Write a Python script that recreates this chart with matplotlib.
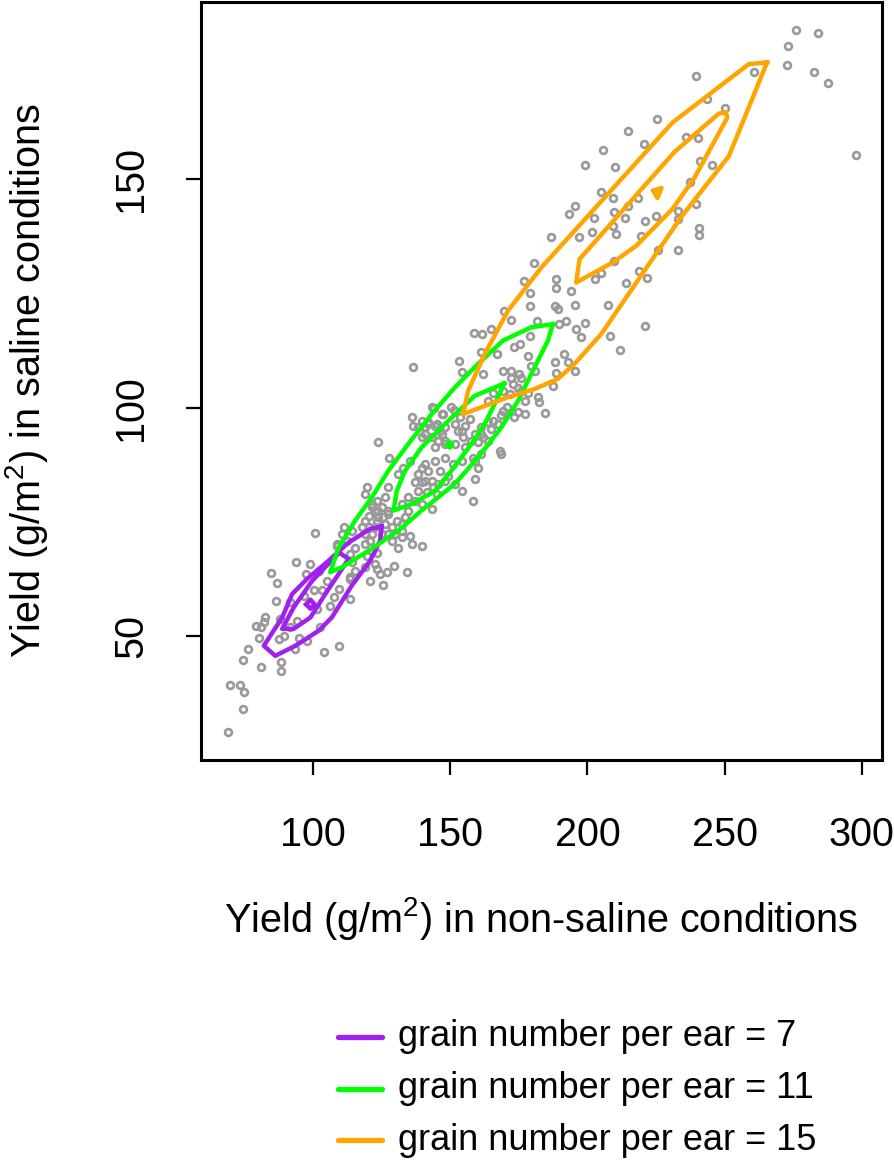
import matplotlib
matplotlib.use("Agg")
import matplotlib.pyplot as plt
from matplotlib.lines import Line2D

plt.rcParams["font.family"] = ["Liberation Sans", "DejaVu Sans"]
plt.rcParams["mathtext.fontset"] = "custom"
plt.rcParams["mathtext.rm"] = "Liberation Sans"
plt.rcParams["mathtext.it"] = "Liberation Sans"

# yield (g/m2): (non-saline, saline) per line
points = [
    (276.2, 182.6), (283.9, 182.0), (273.3, 179.2), (272.8, 175.0), (282.7, 173.4), (287.8, 171.0),
    (298.0, 155.4), (260.7, 173.4), (239.7, 172.6), (243.7, 167.5), (250.1, 165.5), (225.3, 163.2),
    (214.8, 160.5), (220.8, 157.8), (236.1, 159.3), (240.3, 159.0), (205.8, 156.5), (199.0, 153.2),
    (210.2, 152.6), (240.9, 154.0), (245.5, 153.2), (237.3, 149.5), (205.1, 147.3), (209.3, 145.8),
    (218.5, 145.8), (195.3, 144.2), (193.2, 142.4), (202.5, 141.6), (214.9, 144.2), (209.6, 142.9),
    (213.8, 141.6), (201.7, 138.5), (197.1, 137.3), (209.4, 139.8), (210.5, 138.1), (220.9, 140.8),
    (225.0, 141.9), (219.7, 137.6), (232.9, 143.0), (233.2, 141.3), (239.5, 144.6), (240.7, 139.4),
    (240.8, 137.7), (225.8, 134.5), (233.2, 134.5), (186.8, 137.4), (209.6, 132.2), (202.9, 128.1),
    (205.0, 129.5), (214.1, 127.4), (218.9, 130.0), (221.6, 128.5), (188.6, 128.2), (188.6, 126.3),
    (194.1, 125.6), (188.3, 122.3), (195.5, 122.5), (207.5, 122.5), (221.0, 117.9), (208.3, 115.8),
    (211.8, 112.6), (192.2, 118.9), (199.1, 118.5), (195.9, 117.2), (197.7, 115.4), (188.3, 110.1),
    (191.6, 111.7), (195.3, 108.1), (188.6, 107.5), (180.5, 131.7), (176.9, 127.8), (178.9, 125.2),
    (178.9, 122.3), (169.6, 121.2), (172.2, 119.2), (181.6, 119.0), (164.7, 117.2), (158.7, 116.3),
    (161.6, 116.1), (179.0, 115.8), (161.3, 112.3), (167.2, 111.7), (153.1, 110.3), (136.5, 109.0),
    (154.1, 107.9), (173.3, 113.2), (175.5, 114.0), (178.3, 111.4), (169.2, 108.1), (172.2, 108.1),
    (175.2, 107.4), (162.0, 107.4), (189.2, 121.6), (189.8, 118.3), (175.9, 106.5), (172.2, 106.5),
    (179.5, 109.2), (180.7, 108.1), (192.9, 110.1), (187.4, 104.8), (174.7, 104.4), (175.9, 103.7),
    (172.9, 105.2), (169.2, 103.7), (171.6, 103.0), (178.3, 103.3), (177.1, 101.5), (182.0, 102.4),
    (182.5, 101.2), (184.6, 98.8), (177.1, 98.6), (174.7, 99.0), (173.4, 97.9), (170.8, 100.1),
    (169.2, 99.3), (165.6, 103.3), (163.8, 101.5), (144.2, 99.9), (146.8, 98.6), (151.4, 99.6),
    (142.0, 96.8), (145.0, 96.4), (148.0, 95.7), (151.6, 96.4), (155.3, 96.1), (154.1, 95.0),
    (163.8, 96.8), (161.3, 95.7), (165.0, 95.3), (167.4, 96.4), (168.6, 98.5), (158.9, 94.2),
    (157.7, 92.8), (160.1, 92.4), (162.0, 93.5), (148.0, 92.8), (151.6, 92.1), (155.3, 91.3),
    (168.0, 90.6), (168.6, 89.9), (161.3, 89.9), (158.3, 89.1), (154.1, 88.4), (151.1, 87.7),
    (148.0, 89.1), (144.4, 88.4), (140.7, 87.7), (140.7, 95.7), (140.7, 94.2), (123.8, 92.6),
    (127.8, 89.0), (135.9, 97.9), (136.5, 96.1), (139.5, 97.2), (143.2, 100.1), (147.4, 98.6),
    (150.4, 100.1), (144.4, 96.1), (146.2, 95.0), (153.5, 97.9), (157.1, 97.5), (152.9, 95.0),
    (154.7, 93.5), (165.6, 97.2), (161.3, 94.2), (163.8, 92.8), (158.9, 88.4), (160.1, 86.9),
    (158.9, 84.4), (158.3, 79.6), (154.1, 81.8), (151.6, 83.3), (149.2, 85.1), (146.2, 86.2),
    (142.0, 86.2), (139.5, 86.9), (138.3, 85.5), (140.7, 84.0), (137.1, 83.7), (135.3, 88.4),
    (132.9, 86.9), (131.1, 85.5), (143.8, 82.6), (145.0, 81.1), (141.4, 81.5), (143.2, 77.8),
    (139.5, 78.9), (137.1, 79.6), (134.7, 80.4), (132.3, 78.9), (134.7, 77.5), (133.5, 76.0),
    (132.3, 74.6), (130.5, 75.3), (127.4, 82.6), (126.2, 80.4), (123.2, 79.6), (121.4, 78.2),
    (123.8, 77.5), (120.2, 76.4), (123.2, 75.3), (125.6, 76.0), (127.4, 76.7), (119.5, 82.6),
    (118.9, 81.1), (135.3, 72.0), (132.3, 71.6), (139.5, 69.8), (135.9, 70.2), (127.4, 72.4),
    (128.6, 70.9), (131.1, 69.4), (111.1, 74.0), (114.1, 73.1), (117.7, 73.8), (118.9, 72.4),
    (110.5, 72.4), (108.7, 70.2), (112.3, 70.9), (115.3, 69.4), (118.9, 70.2), (121.4, 68.7),
    (119.5, 67.6), (129.3, 65.3), (126.8, 64.0), (134.1, 64.0), (122.6, 65.8), (124.4, 63.6),
    (114.1, 66.2), (115.3, 64.3), (113.5, 62.9), (100.5, 72.5), (93.7, 66.2), (98.7, 65.8),
    (102.0, 64.3), (97.5, 63.6), (84.8, 63.8), (86.8, 61.6), (108.7, 69.8), (113.5, 68.0),
    (105.0, 62.1), (103.2, 60.0), (109.3, 60.3), (113.5, 62.5), (120.8, 70.9), (123.2, 68.3),
    (118.9, 65.1), (123.2, 64.7), (120.8, 62.1), (125.6, 61.1), (86.4, 57.6), (91.7, 57.4),
    (96.6, 58.9), (100.2, 60.0), (101.4, 56.0), (106.2, 56.7), (107.5, 58.5), (113.5, 58.1),
    (79.0, 52.3), (80.8, 51.9), (82.6, 54.1), (82.0, 53.0), (88.0, 53.8), (80.2, 49.6),
    (87.5, 49.4), (89.3, 50.1), (94.7, 49.7), (97.7, 49.0), (93.5, 47.2), (102.6, 51.9),
    (76.2, 47.1), (74.5, 44.8), (80.8, 43.3), (88.4, 44.3), (88.4, 42.3), (103.8, 46.6),
    (109.3, 47.9), (69.7, 39.4), (73.5, 39.3), (74.7, 37.7), (74.5, 34.0), (69.0, 29.1),
    (91.7, 51.9), (94.1, 53.4), (121.4, 78.9), (122.6, 77.5), (125.0, 78.2), (127.4, 77.5),
    (123.8, 76.0), (126.2, 74.6), (128.6, 73.8), (129.8, 72.4), (132.3, 73.1), (125.0, 72.4),
    (122.6, 73.8), (121.4, 72.4), (120.2, 73.8), (118.9, 75.3), (138.3, 95.7), (143.2, 93.5),
    (145.6, 92.8), (142.0, 96.4), (139.5, 93.5), (146.8, 94.2), (144.4, 91.3), (148.0, 92.1),
    (139.5, 83.8), (143.2, 84.0), (145.6, 83.3), (148.0, 84.0), (138.3, 81.8),
]

# density contour lines (non-saline, saline) for each grain number group
contours = {
    "7": [
        [(125.0, 74.0), (120.8, 73.5), (112.9, 70.5), (105.6, 66.5), (97.7, 62.5), (92.3, 59.2),
         (88.7, 54.1), (82.0, 47.9), (86.2, 45.7), (93.5, 47.9), (102.0, 51.2), (106.8, 54.1),
         (114.1, 61.1), (120.8, 66.5), (124.4, 70.9), (125.0, 74.0)],
        [(109.5, 68.3), (112.9, 66.9), (104.4, 59.2), (99.0, 54.1), (92.9, 51.6), (88.7, 51.6),
         (92.9, 56.3), (99.6, 62.1), (109.5, 68.3)],
        [(97.5, 57.0), (99.0, 58.0), (100.5, 57.0), (99.0, 56.0), (97.5, 57.0)],
    ],
    "11": [
        [(187.4, 118.3), (179.5, 117.6), (169.2, 114.7), (160.1, 109.6), (151.6, 104.4), (143.2, 98.6),
         (134.7, 92.1), (127.4, 86.2), (121.4, 80.4), (115.3, 75.3), (109.3, 69.4), (106.2, 64.0),
         (110.5, 65.1), (120.2, 68.7), (131.1, 73.1), (139.5, 77.5), (151.6, 83.3), (160.1, 89.1),
         (168.6, 95.7), (174.7, 101.5), (180.7, 108.8), (185.6, 114.7), (187.4, 118.3)],
        [(169.6, 105.3), (158.9, 102.6), (148.0, 96.4), (139.5, 91.3), (133.5, 86.2), (130.5, 81.8),
         (129.3, 77.5), (135.9, 78.9), (144.4, 81.8), (150.4, 86.2), (157.7, 92.1), (162.5, 96.4),
         (167.4, 102.3), (169.6, 105.3)],
        [(148.9, 91.9), (149.8, 92.5), (150.7, 91.9), (149.8, 91.3), (148.9, 91.9)],
    ],
    "15": [
        [(265.5, 175.6), (258.8, 175.2), (231.0, 162.4), (183.2, 130.7), (171.0, 121.2), (162.5, 111.7),
         (156.5, 103.7), (154.7, 98.6), (161.3, 100.1), (171.0, 102.3), (180.7, 104.1), (189.2, 106.3),
         (195.3, 109.6), (205.0, 116.1), (234.0, 141.6), (251.6, 155.1), (265.5, 175.6)],
        [(250.4, 164.6), (247.9, 164.4), (231.6, 155.9), (197.1, 132.5), (195.9, 127.4), (209.5, 131.9),
         (217.7, 135.4), (231.0, 143.5), (238.9, 150.2), (251.0, 163.5), (250.4, 164.6)],
        [(224.1, 147.5), (227.0, 148.1), (225.5, 145.9), (224.1, 147.5)],
    ],
}
group_colors = {"7": "#A020F0", "11": "#00FF00", "15": "#FFA500"}

x_ticks = [100, 150, 200, 250, 300]
y_ticks = [50, 100, 150]

W, H = 894, 1162
fig = plt.figure(figsize=(W / 100, H / 100), dpi=100)
ax = fig.add_axes([201 / W, 1 - 760 / H, 681 / W, 758 / H])

xs = [p[0] for p in points]
ys = [p[1] for p in points]
ax.plot(xs, ys, linestyle="none", marker="o", markersize=4.9, markerfacecolor="none",
        markeredgecolor="#999999", markeredgewidth=1.9)

for group, lines in contours.items():
    for line in lines:
        ax.plot([p[0] for p in line], [p[1] for p in line], color=group_colors[group],
                linewidth=3.2, solid_joinstyle="round")

ax.set_xlim(59.1, 307.4)
ax.set_ylim(22.9, 188.8)
ax.set_xticks(x_ticks)
ax.set_yticks(y_ticks)
ax.tick_params(axis="both", direction="out", length=10.5, width=1.6, labelsize=28.5, color="black")
ax.tick_params(axis="x", pad=30)
ax.tick_params(axis="y", pad=26)
for lab in ax.get_yticklabels():
    lab.set_rotation(90)
    lab.set_va("center")
for sp in ax.spines.values():
    sp.set_linewidth(2.2)

fig.text(541.5 / W, 1 - 918 / H, "Yield (g/m$^2$) in non-saline conditions", fontsize=28.5,
         ha="center", va="center")
fig.text(27 / W, 1 - 381 / H, "Yield (g/m$^2$) in saline conditions", fontsize=28.5,
         ha="center", va="center", rotation=90)

legend_rows = [("7", 1037), ("11", 1089), ("15", 1140)]
for group, ypix in legend_rows:
    yf = 1 - ypix / H
    fig.add_artist(Line2D([338 / W, 382 / W], [yf, yf], transform=fig.transFigure,
                          color=group_colors[group], linewidth=3.8, solid_capstyle="round"))
    fig.text(398 / W, yf, f"grain number per ear = {group}", fontsize=26,
             ha="left", va="center")

fig.savefig("out.png", dpi=100)
